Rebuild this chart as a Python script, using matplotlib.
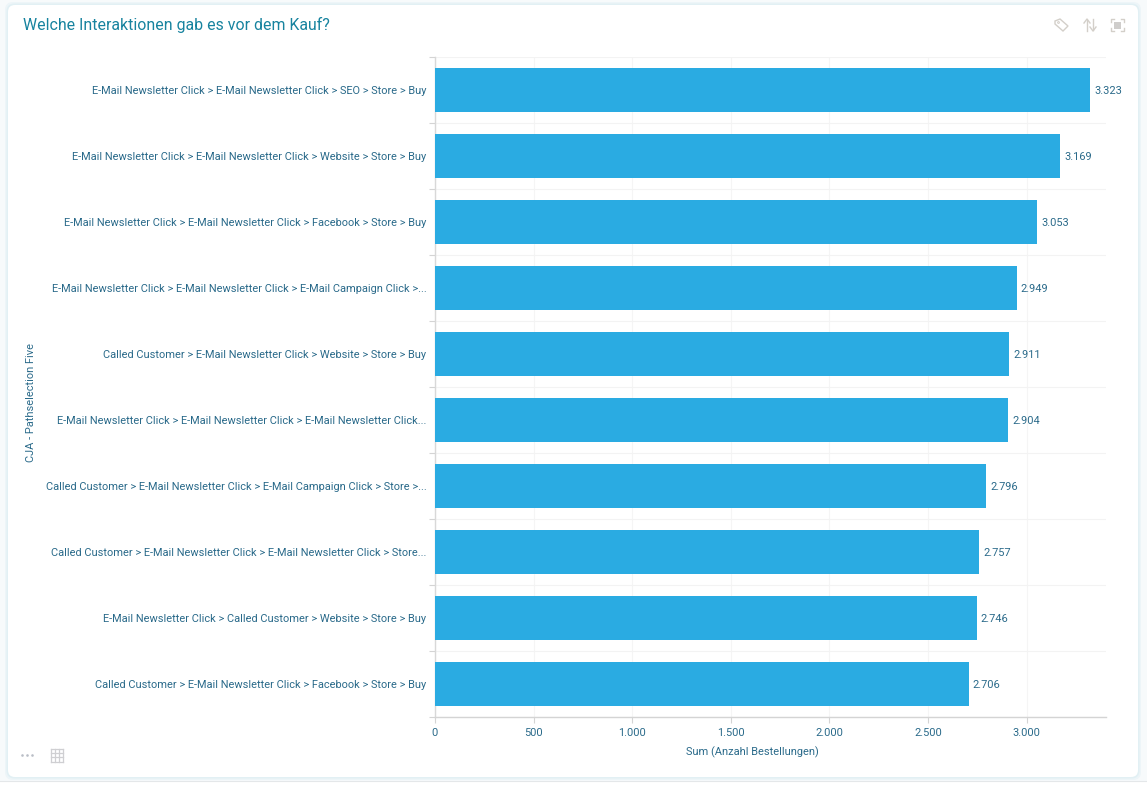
import matplotlib
matplotlib.use("Agg")
import matplotlib.pyplot as plt
from matplotlib.patches import FancyBboxPatch, Rectangle, Polygon, Circle

plt.rcParams['font.family'] = ['Roboto', 'DejaVu Sans']

paths = [
    "E-Mail Newsletter Click > E-Mail Newsletter Click > SEO > Store > Buy",
    "E-Mail Newsletter Click > E-Mail Newsletter Click > Website > Store > Buy",
    "E-Mail Newsletter Click > E-Mail Newsletter Click > Facebook > Store > Buy",
    "E-Mail Newsletter Click > E-Mail Newsletter Click > E-Mail Campaign Click >...",
    "Called Customer > E-Mail Newsletter Click > Website > Store > Buy",
    "E-Mail Newsletter Click > E-Mail Newsletter Click > E-Mail Newsletter Click...",
    "Called Customer > E-Mail Newsletter Click > E-Mail Campaign Click > Store >...",
    "Called Customer > E-Mail Newsletter Click > E-Mail Newsletter Click > Store...",
    "E-Mail Newsletter Click > Called Customer > Website > Store > Buy",
    "Called Customer > E-Mail Newsletter Click > Facebook > Store > Buy",
]
orders = [3323, 3169, 3053, 2949, 2911, 2904, 2796, 2757, 2746, 2706]
x_ticks = [0, 500, 1000, 1500, 2000, 2500, 3000]

W, H = 1147, 785
TEXT = '#2a6a8a'
TITLE = '#17839f'
BAR = '#2aabe2'
ICON = '#d3cfc9'
FS = 7.95


def de_num(v):
    return f"{v:,}".replace(",", ".")


fig = plt.figure(figsize=(W / 100, H / 100), dpi=100, facecolor='#f7fafb')

# card and icons are drawn in pixel coordinates
bg = fig.add_axes([0, 0, 1, 1], zorder=0)
bg.set_xlim(0, W)
bg.set_ylim(H, 0)
bg.axis('off')
bg.add_patch(Rectangle((0, 781), W, 4, fc='white', ec='none'))
bg.plot([0, W], [781, 781], color='#e4e7e9', lw=0.8)
for grow, col in [(3, '#edf5f8'), (1.5, '#e2f0f4')]:
    bg.add_patch(FancyBboxPatch((8, 5), 1130, 772, boxstyle=f"round,pad={grow},rounding_size=8",
                                fc=col, ec='none'))
bg.add_patch(FancyBboxPatch((8, 5), 1130, 772, boxstyle="round,pad=0,rounding_size=7",
                            fc='white', ec='none'))
bg.text(23, 25, "Welche Interaktionen gab es vor dem Kauf?", color=TITLE, fontsize=11.45,
        va='center', ha='left')

# tag icon
bg.add_patch(Polygon([[1055, 21], [1060, 19], [1068, 26], [1063, 31], [1055, 24]],
                     closed=True, fc='none', ec=ICON, lw=1))
bg.add_patch(Circle((1058.5, 22.5), 0.9, fc='none', ec=ICON, lw=0.7))
# sort icon
bg.plot([1087, 1087], [20, 31], color=ICON, lw=1)
bg.plot([1084, 1087, 1090], [23, 19, 23], color=ICON, lw=1)
bg.plot([1093, 1093], [19, 30], color=ICON, lw=1)
bg.plot([1090, 1093, 1096], [27, 31, 27], color=ICON, lw=1)
# focus icon
for cx, cy, dx, dy in [(1111, 19, 1, 1), (1124, 19, -1, 1), (1111, 31, 1, -1), (1124, 31, -1, -1)]:
    bg.plot([cx + 3 * dx, cx, cx], [cy, cy, cy + 3 * dy], color=ICON, lw=1)
bg.add_patch(Rectangle((1114, 21.5), 7, 7, fc='#cfcdcb', ec='none'))
# dots and table icon
for dx in [22.5, 27.5, 32.5]:
    bg.add_patch(Circle((dx, 755.5), 1.3, fc='#b9bec6', ec='none'))
for gx in [50.5, 54.7, 58.9, 62.5]:
    bg.plot([gx, gx], [749, 761.5], color='#cfcfd2', lw=0.9)
for gy in [749, 753.2, 757.4, 761.5]:
    bg.plot([50.5, 62.5], [gy, gy], color='#cfcfd2', lw=0.9)

left, right, top, bottom = 435.0, 1106, 57, 717.3
ax = fig.add_axes([left / W, 1 - bottom / H, (right - left) / W, (bottom - top) / H], zorder=1)
ax.patch.set_alpha(0)

y_pos = list(range(len(paths)))
ax.barh(y_pos, orders, height=0.667, color=BAR, zorder=3)
ax.set_ylim(len(paths) - 0.5, -0.5)
ax.set_xlim(0, 3402)

for y, v in zip(y_pos, orders):
    ax.annotate(de_num(v), (v, y), xytext=(3.0, -0.5), textcoords='offset points', color=TEXT,
                fontsize=FS, va='center', ha='left')

ax.set_yticks(y_pos)
ax.set_yticklabels(paths, fontsize=FS, color=TEXT)
ax.set_yticks([i - 0.5 for i in range(len(paths) + 1)], minor=True)
ax.tick_params(axis='y', which='major', length=0, pad=6.3)
ax.tick_params(axis='y', which='minor', length=4, width=0.8, color='#d4d4d4', left=True)

ax.set_xticks(x_ticks)
ax.set_xticklabels([de_num(t) for t in x_ticks], fontsize=FS, color=TEXT)
ax.tick_params(axis='x', which='major', length=4, width=0.8, color='#d4d4d4', pad=4)

ax.grid(True, axis='x', which='major', color='#f5f5f5', lw=0.8, zorder=0)
ax.grid(True, axis='y', which='minor', color='#f3f3f3', lw=0.8, zorder=0)
ax.grid(False, axis='y', which='major')

for s in ['top', 'right']:
    ax.spines[s].set_visible(False)
ax.spines['left'].set_color('#d8d8d8')
ax.spines['bottom'].set_color('#d4d4d4')
ax.spines['left'].set_linewidth(1)
ax.spines['bottom'].set_linewidth(1)

ax.set_xlabel("Sum (Anzahl Bestellungen)", fontsize=FS, color=TEXT, va='center')
ax.xaxis.set_label_coords((752.5 - left) / (right - left), -(752 - bottom) / (bottom - top))
bg.text(30.5, 403, "CJA - Pathselection Five", rotation=90, fontsize=FS, color=TEXT,
        va='center', ha='center')

fig.savefig("out.png", dpi=100, facecolor=fig.get_facecolor())
